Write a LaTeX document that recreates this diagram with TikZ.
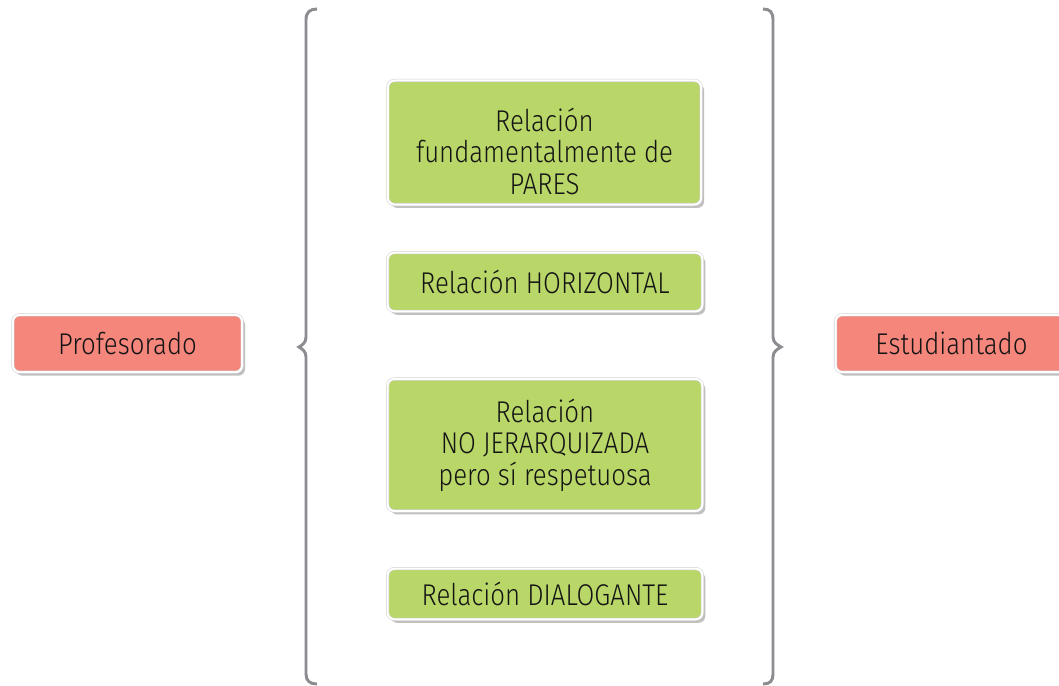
\documentclass[tikz,border=0pt]{standalone}
\usepackage{fontspec}
\setmainfont{Fira Sans}[UprightFont=* Light, FakeStretch=0.86]
\usetikzlibrary{shadows}
\definecolor{boxgreen}{RGB}{185,214,104}
\definecolor{boxred}{RGB}{244,134,124}
\definecolor{bracegray}{RGB}{140,140,145}
\tikzset{
  boxtext/.style={align=center, font=\fontsize{22.5}{23.6}\selectfont, text=black!92, inner sep=0pt},
  box/.style={boxtext, rectangle, rounded corners=5pt, draw=black!18, double=white, double distance=1.5pt, line width=0.4pt,
    drop shadow={shadow xshift=2.2pt, shadow yshift=-2.6pt, opacity=0.35, fill=black!70}},
  greenbox/.style={box, fill=boxgreen},
  redbox/.style={box, fill=boxred},
  bracestyle/.style={draw=bracegray, line width=2.2pt}
}
\begin{document}
\begin{tikzpicture}[x=0.75pt,y=-0.75pt]
\useasboundingbox (0,0) rectangle (1059,685);
\clip (0,0) rectangle (1059,685);
\fill[white] (0,0) rectangle (1059,685);
% braces
\draw[bracestyle] (317,9) .. controls (310,9) and (306,12) .. (306,20) -- (306,337)
  .. controls (306,343) and (302,345) .. (299,347) .. controls (302,349) and (306,351) .. (306,357)
  -- (306,674) .. controls (306,681) and (310,684) .. (317,684);
\draw[bracestyle] (763,9) .. controls (770,9) and (773,12) .. (773,20) -- (773,337)
  .. controls (773,343) and (778,345) .. (781,347) .. controls (778,349) and (773,351) .. (773,357)
  -- (773,674) .. controls (773,681) and (770,684) .. (763,684);
% side boxes
\node[redbox, minimum width=172pt, minimum height=43pt] (prof) at (127.5,343.5) {Profesorado};
\node[redbox, minimum width=174pt, minimum height=43pt] (est) at (951.5,343.5) {Estudiantado};
% central boxes
\node[greenbox, minimum width=235pt, minimum height=93pt] (pares) at (544.5,142.5) {};
\node[boxtext] (parestext) at (544.5,151) {Relación\\fundamentalmente de\\PARES};
\node[greenbox, minimum width=236pt, minimum height=44pt] (horiz) at (545,282)
  {Relación HORIZONTAL};
\node[greenbox, minimum width=236pt, minimum height=99pt] (nojer) at (545,445)
  {Relación\\NO JERARQUIZADA\\pero sí respetuosa};
\node[greenbox, minimum width=236pt, minimum height=38pt] (dial) at (545,594)
  {Relación DIALOGANTE};
\end{tikzpicture}
\end{document}
